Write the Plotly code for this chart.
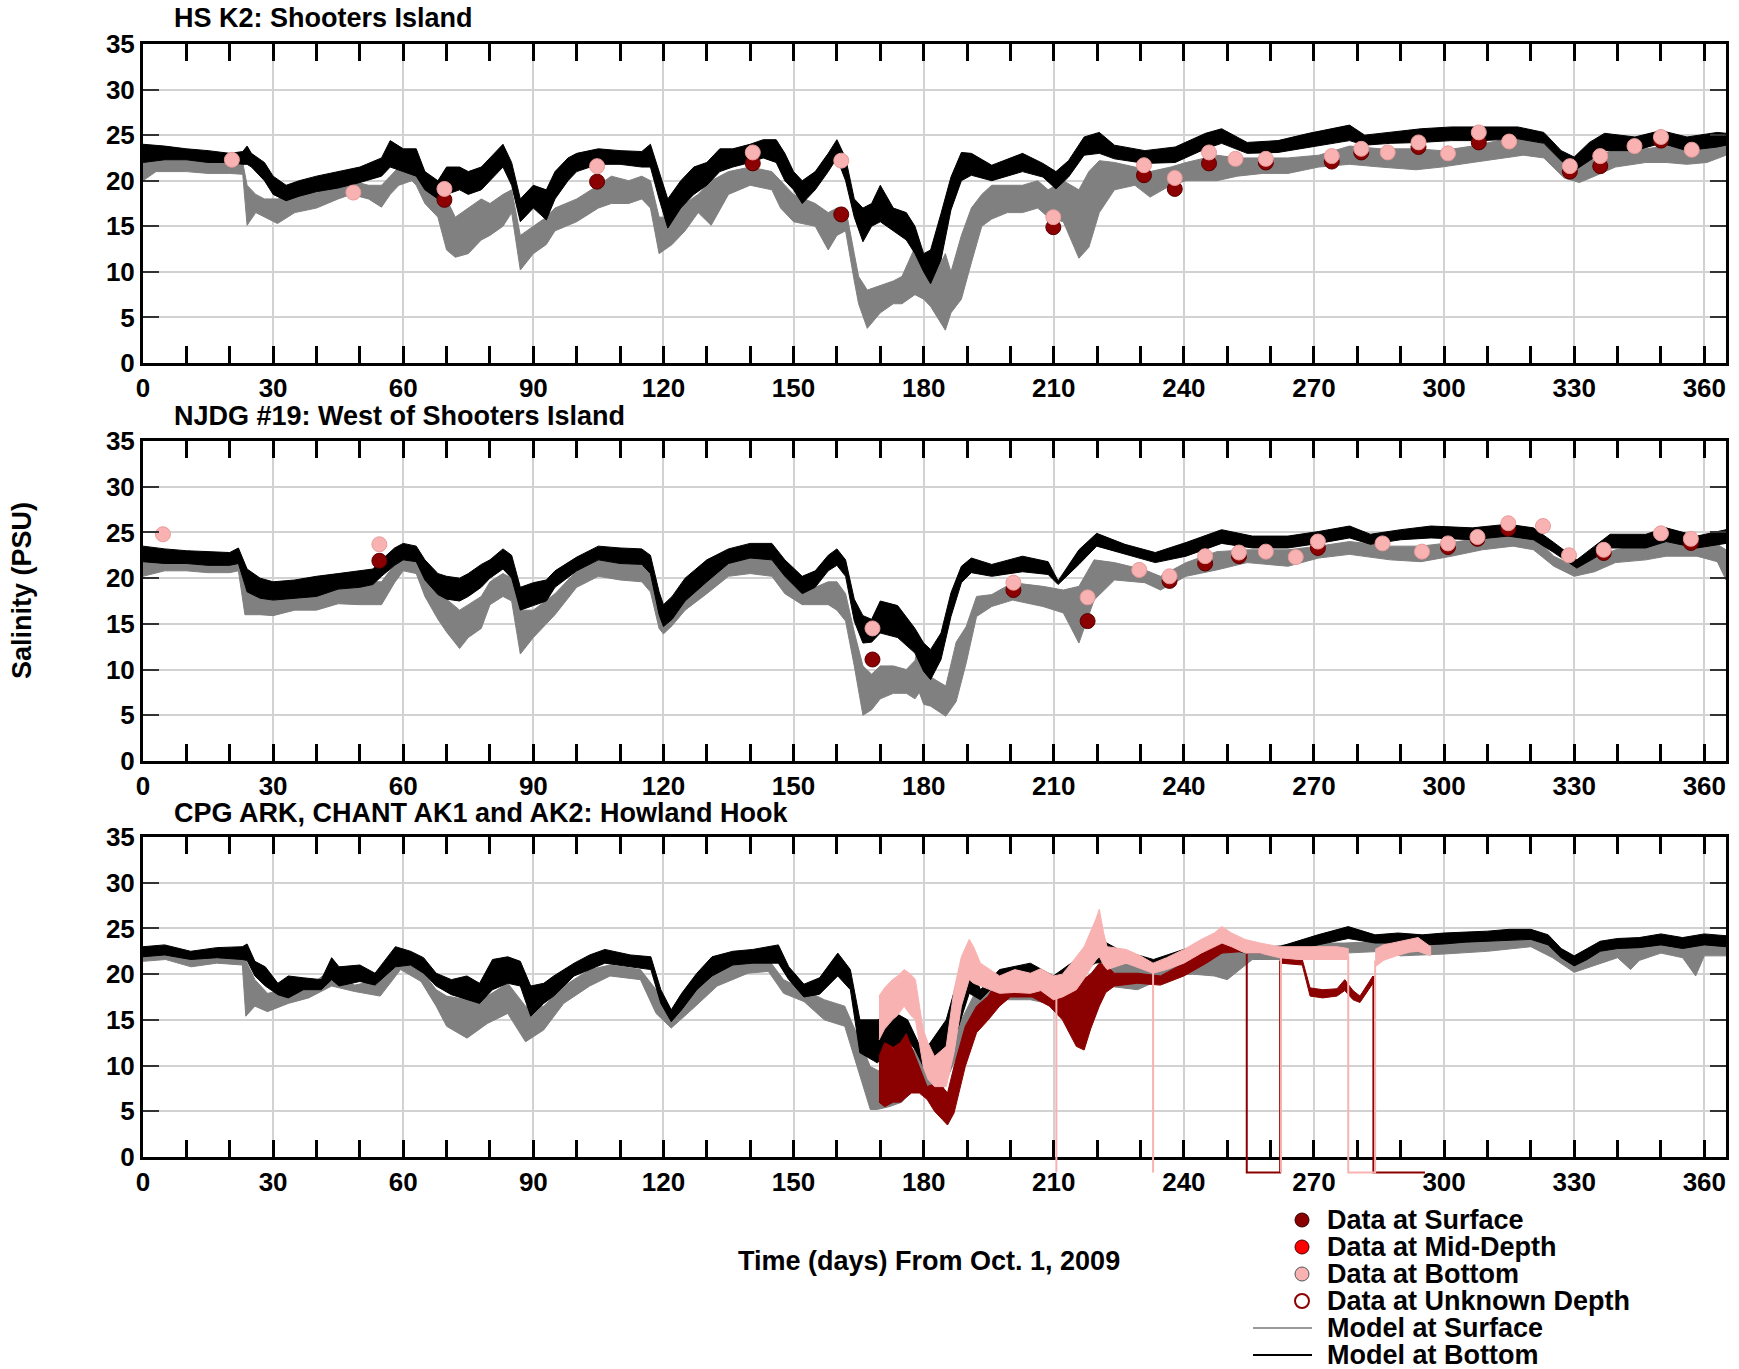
import plotly.graph_objects as go

W, H = 1739, 1369
FONT = "'Liberation Sans', Arial, Helvetica, sans-serif"
FS = 27
FS_TICK = 26

GRAY = "#808080"
BLACK = "#000000"
DRED = "#8B0000"
PINK = "#F9B2B2"

# ---------------- Panel 1: HS K2 Shooters Island ----------------
P1_BOT_DAY = [0, 5, 10, 15, 20, 23, 24, 25, 28, 30, 33, 36, 40, 45, 50, 55, 57, 60, 63, 65, 68, 70, 73, 75, 78, 80, 83, 85, 87, 90, 93, 95, 98, 100, 105, 110, 115, 117, 119, 121, 124, 127, 130, 133, 136, 140, 143, 146, 148, 150, 152, 155, 158, 160, 162, 164, 166, 168, 170, 173, 176, 178, 180, 181.6, 184, 186.3, 188.7, 191, 195.7, 202.8, 207.5, 210.5, 213.4, 217, 220.5, 224, 231, 238, 245, 248.7, 254.6, 261.7, 268.8, 278.2, 281.7, 287.6, 294.7, 301.7, 308.8, 317, 323, 327, 330, 333.5, 337, 344, 350, 356, 363, 365]
P1_BOT_HI = [24.0, 23.8, 23.5, 23.3, 23.0, 23.2, 23.8, 23.0, 22.0, 20.5, 19.5, 20.0, 20.5, 21.0, 21.5, 22.5, 24.4, 23.5, 23.5, 21.0, 20.0, 21.5, 21.5, 21.0, 21.5, 22.5, 24.0, 22.0, 18.0, 19.5, 19.0, 21.0, 22.5, 23.0, 23.5, 23.3, 23.2, 24.0, 21.0, 18.0, 20.0, 21.5, 22.0, 23.5, 23.5, 24.0, 24.5, 24.5, 23.0, 21.0, 20.0, 21.0, 23.0, 24.5, 22.5, 18.0, 17.0, 17.5, 19.5, 17.0, 16.5, 15.0, 12.0, 12.4, 16.4, 20.4, 23.1, 23.0, 21.7, 23.0, 21.9, 21.0, 22.2, 24.8, 25.3, 23.9, 23.3, 23.7, 25.2, 25.7, 24.2, 24.4, 25.2, 26.1, 25.0, 25.3, 25.7, 25.9, 25.9, 25.9, 25.3, 23.3, 22.6, 24.2, 25.2, 24.8, 25.5, 24.8, 25.3, 25.2]
P1_BOT_LO = [22.0, 22.3, 22.3, 22.0, 22.0, 21.8, 21.8, 21.5, 20.0, 18.5, 17.8, 18.3, 18.8, 19.2, 19.8, 20.5, 21.5, 21.0, 20.5, 19.0, 18.0, 18.5, 19.0, 18.5, 19.0, 20.0, 21.5, 19.5, 15.5, 17.0, 15.7, 18.0, 20.0, 21.0, 21.8, 21.8, 21.5, 21.5, 18.0, 14.8, 17.0, 18.5, 19.5, 21.0, 21.5, 22.0, 22.5, 22.0, 20.0, 19.0, 17.5, 19.0, 21.0, 22.5, 20.0, 16.0, 13.3, 15.0, 15.5, 14.5, 13.5, 12.0, 10.0, 8.7, 11.3, 16.8, 20.0, 20.6, 20.0, 21.0, 20.4, 19.1, 20.4, 22.8, 23.0, 22.4, 21.9, 22.0, 23.5, 24.1, 23.0, 23.1, 23.7, 24.4, 23.9, 24.1, 24.2, 24.4, 24.4, 24.6, 24.1, 22.2, 21.1, 22.2, 23.3, 23.3, 24.1, 23.3, 23.7, 23.9]

P1_SUR_DAY = [0, 3, 10, 15, 20, 23, 24, 26, 28, 31, 35, 40, 45, 48, 52, 55, 57, 59, 62, 63, 65, 68, 70, 72, 75, 78, 80, 83, 85, 87, 90, 93, 95, 100, 105, 108, 112, 115, 117, 119, 122, 125, 128, 131, 135, 140, 145, 147, 150, 155, 158, 160, 162, 164, 165, 167, 170, 173, 175, 178, 180, 181.6, 185, 186.3, 188.7, 191, 193.4, 195.7, 199.3, 202.8, 206.3, 208.7, 212.2, 215.8, 218.1, 220.5, 224, 228.7, 232.2, 237, 240.5, 247.6, 252.3, 258.2, 264, 271.1, 278.2, 285.3, 293.5, 299.4, 306.5, 313.5, 318.3, 323, 327.7, 331.2, 334.7, 339.5, 346.5, 351.2, 356, 360.6, 365]
P1_SUR_HI = [22.8, 22.6, 22.3, 22.3, 22.3, 22.0, 19.5, 18.5, 18.0, 18.0, 18.3, 18.7, 19.5, 20.0, 19.5, 19.5, 20.5, 21.5, 22.5, 22.0, 21.0, 19.0, 18.0, 16.0, 17.0, 18.0, 17.5, 18.5, 19.0, 14.0, 15.0, 16.0, 17.0, 18.0, 19.5, 20.5, 20.0, 20.5, 20.0, 16.0, 16.0, 17.5, 18.5, 20.0, 21.0, 21.5, 21.0, 20.0, 18.5, 17.5, 16.5, 17.0, 17.0, 12.0, 9.5, 8.0, 8.5, 9.0, 9.5, 12.7, 11.0, 8.7, 12.0, 10.0, 14.0, 17.0, 18.5, 19.5, 19.5, 19.5, 20.0, 19.0, 20.0, 19.0, 21.0, 22.2, 22.0, 21.5, 21.0, 21.5, 22.0, 22.8, 22.5, 22.5, 22.5, 22.8, 23.8, 23.5, 23.5, 23.3, 23.8, 24.5, 24.7, 24.0, 22.0, 21.5, 22.5, 23.5, 23.5, 23.8, 23.3, 23.5, 24.0]
P1_SUR_LO = [20.0, 21.0, 21.0, 20.8, 20.8, 20.7, 15.1, 16.5, 16.0, 15.3, 16.5, 17.0, 18.0, 18.5, 18.0, 17.1, 18.5, 19.5, 20.0, 19.5, 17.5, 16.0, 12.4, 11.6, 12.0, 13.5, 14.0, 15.0, 16.5, 10.2, 12.0, 13.0, 14.5, 15.5, 17.0, 17.5, 17.5, 18.0, 17.0, 12.0, 13.0, 14.5, 16.5, 15.1, 18.5, 19.5, 19.0, 17.0, 15.5, 15.0, 12.4, 14.0, 14.5, 9.0, 6.5, 3.8, 5.5, 6.5, 6.5, 7.5, 7.0, 6.2, 3.6, 5.5, 7.0, 11.0, 15.0, 15.8, 16.5, 16.5, 17.0, 16.0, 15.5, 11.5, 12.7, 16.5, 19.0, 19.5, 18.2, 19.5, 20.0, 20.0, 20.5, 20.8, 20.8, 21.5, 21.8, 21.5, 21.2, 21.5, 22.0, 22.5, 22.8, 22.5, 20.3, 19.8, 20.5, 21.5, 22.0, 22.0, 21.8, 22.0, 22.8]

P1_DSURF_DAY = [69.5, 104.7, 140.6, 161.0, 209.9, 230.8, 237.9, 245.8, 258.9, 274.1, 280.9, 294.1, 308.0, 329.0, 336.0, 350.0]
P1_DSURF_VAL = [17.9, 19.9, 21.9, 16.3, 14.9, 20.6, 19.1, 21.9, 22.0, 22.1, 23.1, 23.7, 24.2, 21.0, 21.6, 24.4]
P1_DBOT_DAY = [20.5, 48.5, 69.5, 104.7, 140.6, 161.0, 209.9, 230.8, 237.9, 245.8, 251.9, 258.9, 274.1, 280.9, 287.0, 294.1, 300.9, 308.0, 315.0, 329.0, 336.0, 343.9, 350.0, 357.1]
P1_DBOT_VAL = [22.3, 18.7, 19.1, 21.6, 23.1, 22.2, 16.0, 21.7, 20.3, 23.1, 22.4, 22.4, 22.7, 23.5, 23.1, 24.2, 23.0, 25.3, 24.3, 21.6, 22.7, 23.8, 24.8, 23.4]

# ---------------- Panel 2: NJDG #19 ----------------
P2_BOT_DAY = [0, 5, 10, 15, 20, 22, 24, 27, 30, 35, 40, 45, 50, 53, 55, 58, 60, 63, 65, 68, 70, 73, 75, 78, 80, 83, 85, 87, 90, 93, 95, 100, 105, 110, 115, 117, 119, 120, 122, 125, 130, 135, 140, 145, 148, 152, 155, 158, 160, 162, 164, 166, 168, 170, 174, 178, 180, 181.6, 184, 186.3, 188.7, 191, 195.7, 202.8, 208.7, 211, 215.8, 219.9, 226.4, 233.4, 240.5, 248.7, 255.8, 264, 271.1, 278.2, 283, 290, 297, 306.5, 314.7, 320.6, 325.3, 330.6, 334.7, 338.3, 346.5, 351.2, 358.3, 365]
P2_BOT_HI = [23.5, 23.2, 23.0, 22.9, 22.8, 23.3, 21.0, 20.0, 19.6, 19.8, 20.2, 20.5, 20.8, 21.0, 22.0, 23.3, 23.8, 23.5, 22.0, 20.5, 20.2, 20.0, 20.5, 21.5, 22.0, 23.2, 22.5, 19.0, 19.5, 19.8, 20.8, 22.3, 23.5, 23.3, 23.2, 22.5, 18.5, 17.1, 18.0, 20.0, 22.0, 23.2, 23.8, 23.8, 22.0, 20.2, 20.8, 22.5, 23.2, 22.0, 17.7, 15.9, 15.5, 17.5, 17.0, 14.5, 12.9, 12.2, 14.0, 18.4, 21.3, 22.2, 21.5, 22.4, 21.8, 19.7, 23.1, 24.9, 23.7, 22.8, 23.9, 25.3, 24.6, 24.6, 25.1, 25.7, 24.8, 25.3, 25.7, 25.5, 25.9, 25.5, 23.9, 22.0, 23.5, 24.8, 24.8, 25.5, 24.6, 25.3]
P2_BOT_LO = [21.8, 21.6, 21.6, 21.4, 21.4, 21.6, 18.5, 17.8, 17.6, 17.8, 18.0, 18.8, 19.0, 19.3, 20.2, 21.4, 22.0, 21.8, 19.8, 18.2, 17.7, 17.5, 18.0, 19.0, 20.0, 21.0, 20.0, 16.5, 17.0, 17.5, 19.0, 20.8, 22.0, 21.6, 21.5, 20.5, 16.0, 14.7, 15.5, 17.5, 19.6, 21.6, 22.2, 22.0, 20.2, 18.3, 19.0, 20.8, 21.4, 20.2, 15.3, 12.9, 13.0, 14.0, 13.5, 11.8, 9.8, 8.9, 11.1, 15.8, 19.5, 20.6, 20.2, 20.7, 20.4, 19.3, 21.5, 23.5, 22.6, 21.7, 22.4, 23.8, 23.3, 23.3, 23.8, 24.4, 23.7, 24.2, 24.4, 24.2, 24.6, 24.2, 22.8, 21.1, 22.2, 23.3, 23.3, 24.0, 23.3, 23.8]

P2_SUR_DAY = [0, 5, 10, 15, 20, 22, 23.5, 27, 30, 35, 40, 45, 50, 55, 58, 60, 63, 65, 68, 70, 73, 75, 78, 80, 83, 85, 87, 90, 95, 100, 105, 110, 115, 117, 119, 120, 122, 125, 130, 135, 140, 145, 148, 152, 155, 158, 160, 162, 164, 166, 168, 170, 173, 176, 178, 179, 180, 181.6, 185.1, 187.5, 189.8, 192.2, 195.7, 200.5, 207.5, 212.2, 215.8, 219.3, 224, 231, 234.6, 240.5, 247.6, 254.6, 264, 271.1, 278.2, 287.6, 294.7, 301.7, 308.8, 315.9, 320.6, 325.3, 330, 334.7, 339.5, 346.5, 351.2, 358.3, 363, 365]
P2_SUR_HI = [22.6, 22.3, 22.0, 22.0, 21.8, 22.0, 19.0, 18.3, 17.7, 18.0, 18.3, 19.0, 19.6, 19.6, 21.5, 23.0, 22.5, 20.5, 18.5, 17.7, 16.5, 17.1, 18.0, 19.6, 20.5, 20.0, 16.5, 16.5, 18.3, 20.8, 22.0, 21.6, 21.4, 20.5, 17.0, 16.5, 17.0, 18.3, 20.8, 22.0, 22.3, 22.0, 20.8, 19.0, 19.0, 19.6, 19.6, 18.3, 14.1, 10.4, 9.5, 10.4, 10.4, 10.0, 11.0, 13.0, 10.4, 9.2, 8.2, 13.0, 14.7, 18.0, 18.2, 19.5, 19.1, 18.7, 19.1, 22.0, 21.7, 20.9, 20.2, 21.7, 22.9, 23.1, 23.1, 23.5, 24.0, 23.5, 23.5, 23.9, 24.4, 24.9, 24.6, 22.4, 21.3, 22.2, 23.1, 23.7, 24.0, 23.9, 23.7, 23.1]
P2_SUR_LO = [20.2, 20.8, 20.8, 20.6, 20.6, 20.8, 16.0, 16.0, 15.9, 16.5, 16.5, 17.2, 17.1, 17.1, 19.5, 20.8, 20.5, 18.0, 15.5, 14.1, 12.3, 13.5, 14.5, 17.1, 18.0, 17.5, 11.7, 13.5, 16.0, 19.0, 20.2, 19.8, 19.6, 18.5, 14.5, 13.9, 14.8, 16.5, 18.3, 20.2, 20.5, 20.2, 18.3, 17.1, 17.1, 17.1, 16.5, 15.3, 10.4, 5.0, 5.6, 6.8, 7.4, 7.4, 6.8, 7.5, 6.2, 6.0, 4.9, 6.5, 10.7, 15.8, 16.9, 17.6, 16.9, 16.2, 12.9, 17.6, 19.8, 19.5, 18.7, 20.2, 20.9, 21.7, 21.3, 22.2, 22.6, 22.0, 21.8, 22.4, 23.1, 23.5, 23.1, 21.3, 20.2, 20.7, 21.7, 22.0, 22.4, 22.4, 21.8, 19.8]

P2_DSURF_DAY = [54.5, 168.2, 200.7, 217.8, 236.7, 244.9, 252.7, 270.9, 300.9, 307.7, 314.8, 336.8, 356.9]
P2_DSURF_VAL = [21.9, 11.1, 18.7, 15.3, 19.7, 21.6, 22.4, 23.3, 23.4, 24.3, 25.4, 22.75, 23.85]
P2_DBOT_DAY = [4.6, 54.5, 168.2, 200.7, 217.8, 229.7, 236.7, 244.9, 252.7, 258.9, 265.8, 270.9, 285.8, 294.9, 300.9, 307.7, 314.8, 322.8, 328.8, 336.8, 350.0, 356.9]
P2_DBOT_VAL = [24.8, 23.7, 14.5, 19.5, 17.9, 20.9, 20.2, 22.4, 22.8, 22.9, 22.3, 24.0, 23.8, 22.9, 23.8, 24.5, 26.0, 25.7, 22.5, 23.1, 24.9, 24.3]

# ---------------- Panel 3: CPG ARK, CHANT AK1 and AK2 ----------------
P3_BOT_DAY = [0, 5, 11, 17, 22.9, 24, 25.8, 28.2, 31.1, 33.5, 37, 41.1, 43.5, 45.2, 50, 53.5, 58.2, 61.7, 64.7, 67.6, 71.1, 74.7, 77.6, 80.6, 84.1, 87, 89.4, 92.4, 94.7, 99.4, 103, 106.5, 112.4, 117.1, 119.4, 121.8, 124.2, 127.7, 131.2, 136, 140.6, 146.5, 148.9, 152.4, 156, 160.2, 163.1, 165.3, 169.3, 173.7, 176.3, 178.1, 179.9, 185.2, 187.8, 190.5, 193.1, 197.5, 204.6, 209.9, 215.2, 219.6, 224.9, 233, 240, 248.8, 254.1, 262, 270.9, 277.9, 284.1, 289.4, 295, 300, 305, 310, 315, 320, 324, 327, 330, 333, 336, 340, 345, 350, 355, 360, 365]
P3_BOT_HI = [23.0, 23.2, 22.5, 22.9, 23.0, 23.3, 21.4, 20.8, 19.0, 19.8, 19.6, 19.4, 21.8, 20.8, 21.0, 20.1, 23.0, 22.5, 21.8, 20.1, 19.4, 19.8, 19.0, 21.6, 21.9, 21.4, 18.7, 19.0, 19.8, 21.2, 22.1, 22.7, 22.1, 21.9, 18.3, 16.1, 17.9, 20.1, 21.9, 22.5, 22.7, 23.2, 20.8, 18.9, 19.6, 22.3, 20.5, 15.0, 15.0, 15.7, 15.0, 13.2, 11.4, 15.0, 19.4, 21.2, 18.3, 20.5, 21.2, 19.8, 21.6, 24.1, 22.7, 21.6, 22.7, 24.1, 23.0, 23.0, 24.3, 25.2, 24.3, 24.5, 24.3, 24.5, 24.6, 24.7, 24.9, 24.9, 24.3, 22.8, 22.0, 22.8, 23.6, 23.9, 24.0, 24.4, 24.0, 24.4, 24.2]
P3_BOT_LO = [21.9, 22.1, 21.6, 21.8, 21.6, 21.5, 19.8, 18.7, 17.75, 17.4, 18.3, 18.3, 19.4, 18.7, 19.2, 18.8, 20.8, 21.0, 20.1, 18.7, 17.75, 17.2, 16.8, 18.3, 19.0, 18.7, 15.4, 16.8, 17.6, 19.8, 20.5, 21.2, 20.8, 20.5, 16.8, 14.8, 16.1, 18.3, 19.8, 21.0, 21.2, 21.2, 19.4, 17.5, 17.8, 19.8, 18.3, 11.4, 10.3, 12.1, 12.8, 11.7, 9.9, 9.9, 13.9, 17.9, 17.2, 19.4, 19.8, 19.4, 19.8, 21.2, 21.6, 20.5, 21.6, 23.0, 22.3, 22.3, 23.2, 23.9, 23.4, 23.4, 23.2, 23.3, 23.5, 23.6, 23.7, 23.8, 23.2, 21.8, 20.9, 21.6, 22.5, 22.8, 22.9, 23.2, 22.8, 23.2, 23.0]

P3_SUR_DAY = [0, 5.2, 11.1, 17, 22.9, 23.7, 25.8, 28.7, 33.5, 38.2, 43.5, 48.8, 54.7, 59.4, 64.1, 67.6, 70, 74.7, 79.4, 84.1, 88.2, 92.4, 97, 103, 107.7, 114.7, 118.3, 121.8, 126.5, 132.4, 139.5, 144.2, 147.7, 152.4, 157.1, 161.8, 164.2, 167.7, 169.3, 172, 175, 178.1, 180.8, 183, 185.2, 188.7, 192.2, 197.5, 204.6, 211.7, 217, 222.3, 229.3, 236.4, 242, 247, 250, 255.8, 266.4, 277, 285.9, 290, 300, 310, 320, 325, 330, 335, 340, 343, 345, 350, 355, 358, 360, 365]
P3_SUR_HI = [22.5, 22.5, 21.9, 22.1, 21.8, 21.5, 19.4, 17.9, 18.3, 18.7, 20.5, 18.8, 19.4, 21.6, 20.5, 18.3, 17.6, 17.2, 17.6, 19.0, 16.5, 16.5, 18.7, 20.5, 21.0, 20.5, 18.3, 15.7, 17.9, 20.5, 21.4, 21.6, 19.4, 18.3, 17.2, 16.5, 13.9, 9.9, 9.5, 9.0, 9.0, 12.1, 9.9, 9.5, 12.1, 15.0, 18.3, 18.7, 19.4, 17.9, 19.4, 21.6, 20.8, 21.2, 22.0, 23.0, 22.5, 22.7, 23.4, 23.4, 23.6, 23.3, 23.5, 23.8, 24.2, 23.0, 21.4, 22.3, 23.0, 23.2, 23.4, 23.8, 23.3, 23.0, 23.5, 23.4]
P3_SUR_LO = [21.4, 21.6, 20.8, 21.2, 21.0, 15.4, 16.5, 15.9, 16.8, 17.4, 18.7, 18.1, 17.6, 20.5, 19.2, 16.5, 14.3, 13.0, 14.6, 15.7, 12.6, 13.9, 16.8, 18.7, 19.8, 19.4, 15.7, 14.1, 16.1, 18.7, 20.1, 20.3, 17.9, 17.0, 15.0, 14.3, 10.6, 5.2, 5.2, 5.5, 6.0, 7.7, 6.6, 5.5, 8.4, 12.1, 16.5, 17.2, 17.2, 16.5, 17.5, 18.7, 18.3, 19.8, 20.0, 19.8, 19.4, 21.6, 21.6, 22.3, 22.5, 22.0, 22.2, 22.5, 23.0, 21.8, 20.2, 21.0, 21.8, 20.5, 21.5, 22.3, 21.8, 19.8, 22.0, 22.0]

# Observed continuous records (CHANT AK1/AK2): surface (dark red) and bottom (pink)
P3_OBS_SURF_DAY = [169.7, 171, 173, 174.6, 176, 177.2, 179, 180.8, 182.5, 184.3, 185.5, 187, 189.6, 192.2, 194.9, 197.5, 200, 205, 209, 212, 215.2, 217, 218.5, 220.5, 222, 224, 229.3, 234.6, 240, 245.2, 248.8, 252, 254.4]
P3_OBS_SURF_HI = [11.0, 12.5, 12.0, 12.5, 13.5, 12.1, 10.0, 7.7, 8.0, 7.7, 7.0, 9.9, 14.3, 16.5, 17.6, 19.8, 19.5, 19.0, 17.9, 18.0, 18.7, 19.5, 20.0, 21.2, 21.0, 20.1, 20.1, 19.8, 21.2, 22.7, 23.8, 23.3, 23.0]
P3_OBS_SURF_LO = [6.0, 5.5, 6.0, 6.0, 6.5, 7.0, 7.0, 6.3, 5.0, 4.1, 3.5, 4.8, 9.9, 13.6, 15.0, 16.5, 17.5, 17.5, 16.5, 15.0, 12.1, 11.7, 14.0, 16.5, 18.0, 18.7, 19.0, 18.8, 19.8, 21.2, 22.3, 22.4, 22.5]
P3_OBS_SURF2_DAY = [262.3, 267.3, 269.1, 272, 275.3, 277.1, 279, 280.6, 283.6]
P3_OBS_SURF2_HI = [21.8, 21.6, 18.5, 18.3, 18.4, 19.4, 18.2, 17.6, 19.8]
P3_OBS_SURF2_LO = [21.2, 21.0, 17.6, 17.4, 17.6, 18.2, 17.2, 16.9, 19.0]
P3_OBS_SURF_GAP_DAY = [254.5, 254.5, 262.2, 262.2, None, 283.7, 283.7, 295.6]
P3_OBS_SURF_GAP_VAL = [22.5, -1.7, -1.7, 21.5, None, 19.8, -1.7, -1.7]

P3_OBS_BOT_DAY = [169.7, 171, 172.8, 174, 175.5, 177, 178.1, 179.9, 181, 182.5, 185.2, 187, 188.7, 190.5, 191.5, 193.1, 197.5, 201, 204.6, 207, 209.9, 212, 215.2, 217, 218.7, 219.7, 220.5, 221.5, 222.3, 226.7, 230, 232.9, 236, 240, 244, 247, 248.8, 251, 254.1, 257.6, 262, 266.4, 270, 275.3, 277.9]
P3_OBS_BOT_HI = [17.6, 18.5, 19.4, 19.8, 20.5, 20.0, 19.4, 13.9, 12.5, 11.0, 12.1, 18.3, 21.9, 23.8, 23.0, 21.2, 19.8, 20.5, 20.1, 20.6, 19.8, 20.0, 21.9, 23.0, 24.9, 26.0, 27.1, 24.5, 23.0, 22.7, 22.0, 21.2, 21.8, 22.7, 23.8, 24.5, 25.2, 24.5, 23.8, 23.4, 23.0, 23.0, 23.0, 23.0, 22.8]
P3_OBS_BOT_LO = [12.8, 14.0, 15.0, 15.5, 16.5, 15.5, 15.0, 9.9, 8.5, 7.7, 7.7, 11.4, 16.5, 19.4, 19.0, 18.7, 17.9, 18.0, 17.9, 18.2, 17.2, 17.5, 18.3, 19.5, 20.8, 21.5, 21.9, 21.0, 20.5, 21.2, 20.6, 20.1, 20.5, 21.2, 22.3, 23.0, 23.4, 23.0, 22.3, 22.3, 21.8, 21.6, 21.6, 21.6, 21.6]
P3_OBS_BOT2_DAY = [284.1, 286, 289, 292, 294, 296.9]
P3_OBS_BOT2_HI = [22.7, 23.2, 23.5, 23.8, 24.0, 23.0]
P3_OBS_BOT2_LO = [20.8, 21.5, 22.0, 22.4, 22.5, 22.0]
P3_OBS_BOT_GAP_DAY = [210.6, 210.6, None, 232.9, 232.9, None, 262.4, 262.4, None, 277.9, 277.9, 284.1, 284.1]
P3_OBS_BOT_GAP_VAL = [19.0, -1.7, None, 20.5, -1.7, None, 22.0, -1.7, None, 22.0, -1.7, -1.7, 21.5]

PANEL_TITLES = ["HS K2: Shooters Island", "NJDG #19: West of Shooters Island",
                "CPG ARK, CHANT AK1 and AK2: Howland Hook"]
X_TICKS = list(range(0, 361, 30))
Y_TICKS = list(range(0, 36, 5))
LEGEND_LABELS = ["Data at Surface", "Data at Mid-Depth", "Data at Bottom",
                 "Data at Unknown Depth", "Model at Surface", "Model at Bottom"]

# ---------------- layout geometry (pixels) ----------------
PX_L, PX_R = 143, 1726
PANEL_PX = [(44, 363), (441, 761), (837, 1157)]   # (top, bottom) pixel rows
EXTRA_PX = 22  # panel-3 observation axis extends below the frame (fill-value drops)
XR = [0, 365]
YR = [0, 35]


def fx(px):
    return px / W


def fy(py):
    return 1 - py / H


fig = go.Figure()


def band(days, hi, lo, color, xa, ya):
    xs = list(days) + list(days[::-1])
    ys = list(hi) + list(lo[::-1])
    fig.add_trace(go.Scatter(x=xs, y=ys, mode="lines", fill="toself", fillcolor=color,
                             line=dict(color=color, width=1), xaxis=xa, yaxis=ya,
                             showlegend=False, hoverinfo="skip"))


def dots(days, vals, color, edge, xa, ya):
    fig.add_trace(go.Scatter(x=days, y=vals, mode="markers",
                             marker=dict(size=15, color=color, line=dict(color=edge, width=1)),
                             xaxis=xa, yaxis=ya, showlegend=False, hoverinfo="skip"))


# Panel 1
band(P1_SUR_DAY, P1_SUR_HI, P1_SUR_LO, GRAY, "x", "y")
band(P1_BOT_DAY, P1_BOT_HI, P1_BOT_LO, BLACK, "x", "y")
dots(P1_DSURF_DAY, P1_DSURF_VAL, DRED, "#5a0000", "x", "y")
dots(P1_DBOT_DAY, P1_DBOT_VAL, PINK, "#e99a9a", "x", "y")
# Panel 2
band(P2_SUR_DAY, P2_SUR_HI, P2_SUR_LO, GRAY, "x2", "y2")
band(P2_BOT_DAY, P2_BOT_HI, P2_BOT_LO, BLACK, "x2", "y2")
dots(P2_DSURF_DAY, P2_DSURF_VAL, DRED, "#5a0000", "x2", "y2")
dots(P2_DBOT_DAY, P2_DBOT_VAL, PINK, "#e99a9a", "x2", "y2")
# Panel 3
band(P3_SUR_DAY, P3_SUR_HI, P3_SUR_LO, GRAY, "x3", "y3")
band(P3_BOT_DAY, P3_BOT_HI, P3_BOT_LO, BLACK, "x3", "y3")
band(P3_OBS_SURF_DAY, P3_OBS_SURF_HI, P3_OBS_SURF_LO, DRED, "x4", "y4")
band(P3_OBS_SURF2_DAY, P3_OBS_SURF2_HI, P3_OBS_SURF2_LO, DRED, "x4", "y4")
fig.add_trace(go.Scatter(x=P3_OBS_SURF_GAP_DAY, y=P3_OBS_SURF_GAP_VAL, mode="lines",
                         line=dict(color=DRED, width=2), xaxis="x4", yaxis="y4",
                         showlegend=False, hoverinfo="skip"))
band(P3_OBS_BOT_DAY, P3_OBS_BOT_HI, P3_OBS_BOT_LO, PINK, "x4", "y4")
band(P3_OBS_BOT2_DAY, P3_OBS_BOT2_HI, P3_OBS_BOT2_LO, PINK, "x4", "y4")
fig.add_trace(go.Scatter(x=P3_OBS_BOT_GAP_DAY, y=P3_OBS_BOT_GAP_VAL, mode="lines",
                         line=dict(color=PINK, width=2), xaxis="x4", yaxis="y4",
                         showlegend=False, hoverinfo="skip"))

tickfont = dict(family=FONT, size=FS_TICK, color="black", weight="bold")
xd = [fx(PX_L), fx(PX_R)]

layout = dict(width=W, height=H, autosize=False,
              margin=dict(l=0, r=0, t=0, b=0, pad=0, autoexpand=False),
              paper_bgcolor="white", plot_bgcolor="rgba(0,0,0,0)", showlegend=False,
              font=dict(family=FONT, size=FS, color="black"))

for i, (top, bot) in enumerate(PANEL_PX):
    n = "" if i == 0 else str(i + 1)
    layout["xaxis" + n] = dict(
        domain=xd, range=XR, anchor="y" + n, tickvals=X_TICKS, ticks="inside",
        ticklen=17, tickwidth=3, tickcolor="black", showline=True, linewidth=3,
        linecolor="black", mirror="ticks", showgrid=True, gridcolor="#d2d2d2",
        gridwidth=2, zeroline=False, tickfont=tickfont, automargin=False,
        minor=dict(dtick=10, tick0=0, ticks="inside", ticklen=17, tickwidth=3,
                   tickcolor="black", showgrid=False))
    layout["yaxis" + n] = dict(
        domain=[fy(bot), fy(top)], range=YR, anchor="x" + n, tickvals=Y_TICKS,
        ticks="inside", ticklen=16, tickwidth=2, tickcolor="#333333", showline=True,
        linewidth=3, linecolor="black", mirror="ticks", showgrid=True,
        gridcolor="#d2d2d2", gridwidth=2, zeroline=False, tickfont=tickfont,
        automargin=False)

# independent axis for panel-3 observation records (same scale; lets fill-value drops pass the frame)
top3, bot3 = PANEL_PX[2]
ppu = (bot3 - top3) / (YR[1] - YR[0])
layout["xaxis4"] = dict(domain=xd, range=XR, anchor="y4", visible=False, automargin=False)
layout["yaxis4"] = dict(domain=[fy(bot3 + EXTRA_PX), fy(top3)],
                        range=[-EXTRA_PX / ppu, YR[1]], anchor="x4", visible=False,
                        automargin=False)

ann = []
title_y = [18, 416, 813]
for t, yy in zip(PANEL_TITLES, title_y):
    ann.append(dict(text=t, x=fx(172), y=fy(yy), xref="paper", yref="paper",
                    xanchor="left", yanchor="middle", showarrow=False,
                    font=dict(family=FONT, size=FS, color="black", weight="bold")))
ann.append(dict(text="Salinity (PSU)", x=fx(22), y=fy(591), xref="paper", yref="paper",
                textangle=-90, xanchor="center", yanchor="middle", showarrow=False,
                font=dict(family=FONT, size=FS, color="black", weight="bold")))
ann.append(dict(text="Time (days) From Oct. 1, 2009", x=fx(929), y=fy(1261),
                xref="paper", yref="paper", xanchor="center", yanchor="middle",
                showarrow=False, font=dict(family=FONT, size=FS, color="black", weight="bold")))

# legend (drawn manually to match the compact row spacing)
LEG_ROWS = [1220, 1247, 1274, 1301, 1328, 1355]
LEG_TEXT_X = 1325
LEG_SYM_X = 1302
shapes = []
sym_styles = [(DRED, "#300000", 1), ("#FF0000", "#500000", 1), (PINK, "#555555", 1),
              ("white", DRED, 2)]
for lab, yy in zip(LEGEND_LABELS, LEG_ROWS):
    ann.append(dict(text=lab, x=fx(LEG_TEXT_X), y=fy(yy), xref="paper", yref="paper",
                    xanchor="left", yanchor="middle", showarrow=False,
                    font=dict(family=FONT, size=FS, color="black", weight="bold")))
for (fc, lc, lw), yy in zip(sym_styles, LEG_ROWS[:4]):
    shapes.append(dict(type="circle", xref="paper", yref="paper", xsizemode="pixel",
                       ysizemode="pixel", xanchor=fx(LEG_SYM_X), yanchor=fy(yy),
                       x0=-7, x1=7, y0=-7, y1=7, fillcolor=fc,
                       line=dict(color=lc, width=lw)))
for col, yy in zip(["#999999", BLACK], LEG_ROWS[4:]):
    shapes.append(dict(type="line", xref="paper", yref="paper", x0=fx(1253), x1=fx(1312),
                       y0=fy(yy), y1=fy(yy), line=dict(color=col, width=2)))

layout["annotations"] = ann
layout["shapes"] = shapes
fig.update_layout(**layout)
fig.write_html("out.html", config={"displayModeBar": False},
               post_script="document.body.style.margin='0px';document.body.style.overflow='hidden';")
